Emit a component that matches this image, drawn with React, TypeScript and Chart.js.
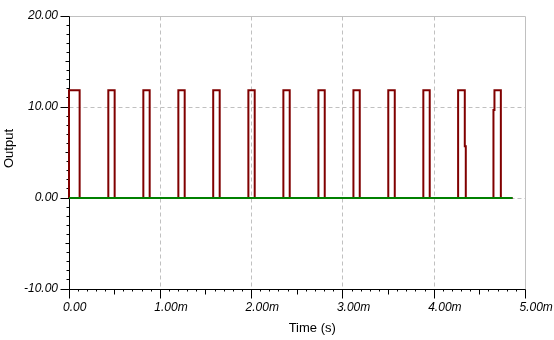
import React, { useEffect, useRef } from "react";
import { Chart, registerables } from "chart.js";

Chart.register(...registerables);

// Output waveform: each edge time (ms) and the level held from that edge on
const edgeTimesMs = [
  0, 0.1165,
  0.4306, 0.5,
  0.8142, 0.8836,
  1.1977, 1.2671,
  1.5795, 1.6505,
  1.9647, 2.034,
  2.348, 2.4175,
  2.7318, 2.801,
  3.1153, 3.1845,
  3.497, 3.568,
  3.881, 3.951,
  4.262, 4.335, 4.346,
  4.649, 4.66, 4.73,
];
const edgeLevels = [
  11.85, 0,
  11.85, 0,
  11.85, 0,
  11.85, 0,
  11.85, 0,
  11.85, 0,
  11.85, 0,
  11.85, 0,
  11.85, 0,
  11.85, 0,
  11.85, 0,
  11.85, 5.7, 0,
  9.67, 11.85, 0,
];
const simEndMs = 4.858;
const referenceLevel = [0, 0];

const xMinSec = 0;
const xMaxSec = 0.005;
const xStepSec = 0.001;
const yMin = -10;
const yMax = 20;
const yStep = 10;

const xTitle = "Time (s)";
const yTitle = "Output";

const RED = "#800000";
const GREEN = "#008000";
const GRID = "#c0c0c0";
const FONT = "'Liberation Sans', Arial, sans-serif";

export default function App() {
  const ref = useRef<HTMLCanvasElement>(null);

  useEffect(() => {
    if (!ref.current) return;

    const pulse = [{ x: 0, y: 0 }].concat(
      edgeTimesMs.map((t, i) => ({ x: t / 1000, y: edgeLevels[i] })),
      [{ x: simEndMs / 1000, y: 0 }]
    );
    const zero = [
      { x: 0, y: referenceLevel[0] },
      { x: simEndMs / 1000, y: referenceLevel[1] },
    ];

    const framePlugin = {
      id: "frame",
      beforeDatasetsDraw(chart: any) {
        const { ctx, scales } = chart;
        const x = scales.x;
        const y = scales.y;
        const px = (v: number) => Math.floor(x.getPixelForValue(v)) + 0.5;
        const py = (v: number) => Math.floor(y.getPixelForValue(v)) + 0.5;
        const L = px(xMinSec), R = px(xMaxSec), T = py(yMax), B = py(yMin);
        ctx.save();
        ctx.lineWidth = 1;
        // dashed interior grid
        ctx.strokeStyle = GRID;
        ctx.setLineDash([4, 3]);
        ctx.beginPath();
        for (let i = 1; i < 5; i++) {
          const xx = px(xMinSec + i * xStepSec);
          ctx.moveTo(xx, T);
          ctx.lineTo(xx, B);
        }
        for (let v = yMin + yStep; v < yMax; v += yStep) {
          const yy = py(v);
          ctx.moveTo(L, yy);
          ctx.lineTo(R, yy);
        }
        ctx.stroke();
        // solid top/right frame
        ctx.setLineDash([]);
        ctx.beginPath();
        ctx.moveTo(L, T);
        ctx.lineTo(R, T);
        ctx.lineTo(R, B);
        ctx.stroke();
        // black axes
        ctx.strokeStyle = "#000";
        ctx.beginPath();
        ctx.moveTo(L, T);
        ctx.lineTo(L, B);
        ctx.lineTo(R, B);
        // y ticks: major / half / minor
        for (let k = 0; k <= (yMax - yMin); k++) {
          const v = yMin + k;
          const yy = py(v);
          const len = k % 10 === 0 ? 9 : k % 5 === 0 ? 4 : 3;
          ctx.moveTo(L - len, yy);
          ctx.lineTo(L, yy);
        }
        // x ticks
        for (let k = 0; k <= 50; k++) {
          const v = xMinSec + (k * xStepSec) / 10;
          const xx = px(v);
          const len = k % 10 === 0 ? 9 : k % 5 === 0 ? 5 : 2;
          ctx.moveTo(xx, B);
          ctx.lineTo(xx, B + len);
        }
        ctx.stroke();
        ctx.restore();
      },
      afterDraw(chart: any) {
        const { ctx, chartArea: a } = chart;
        ctx.save();
        ctx.fillStyle = "#000";
        ctx.font = `13px ${FONT}`;
        ctx.textAlign = "center";
        ctx.textBaseline = "middle";
        ctx.fillText(xTitle, (a.left + a.right) / 2 + 15, a.bottom + 39);
        ctx.translate(9, (a.top + a.bottom) / 2 - 4);
        ctx.rotate(-Math.PI / 2);
        ctx.fillText(yTitle, 0, 0);
        ctx.restore();
      },
    };

    const chart = new Chart(ref.current, {
      type: "line",
      data: {
        datasets: [
          {
            data: zero,
            borderColor: GREEN,
            borderWidth: 2,
            pointRadius: 0,
            fill: false,
            clip: false as any,
          },
          {
            data: pulse,
            borderColor: RED,
            borderWidth: 2,
            pointRadius: 0,
            stepped: true,
            fill: false,
            clip: false as any,
          },
        ],
      },
      options: {
        responsive: false,
        animation: false,
        events: [],
        layout: { padding: { left: 0, top: 16, right: 28.5, bottom: 0 } },
        plugins: { legend: { display: false }, tooltip: { enabled: false } },
        scales: {
          x: {
            type: "linear",
            min: xMinSec,
            max: xMaxSec,
            grid: { display: false, drawTicks: false },
            border: { display: false },
            ticks: {
              stepSize: xStepSec,
              autoSkip: false,
              maxRotation: 0,
              align: "start",
              labelOffset: -6,
              padding: 11,
              color: "#000",
              font: { family: FONT, size: 12, style: "italic" },
              callback: (v: any) => {
                const n = Number(v);
                return Math.abs(n) < 1e-12 ? "0.00" : (n * 1000).toFixed(2) + "m";
              },
            },
            afterFit: (s: any) => {
              s.height = 51;
              s.paddingLeft = 0;
              s.paddingRight = 0;
            },
          },
          y: {
            type: "linear",
            min: yMin,
            max: yMax,
            grid: { display: false, drawTicks: false },
            border: { display: false },
            ticks: {
              stepSize: yStep,
              padding: 11,
              color: "#000",
              font: { family: FONT, size: 12, style: "italic" },
              callback: (v: any) => Number(v).toFixed(2),
            },
            afterFit: (s: any) => {
              s.width = 69;
              s.paddingTop = 0;
              s.paddingBottom = 0;
            },
          },
        },
      } as any,
      plugins: [framePlugin],
    });

    return () => chart.destroy();
  }, []);

  return (
    <div style={{ position: "fixed", left: 0, top: 0, width: 554, height: 340, background: "#fff" }}>
      <canvas ref={ref} width={554} height={340} />
    </div>
  );
}
